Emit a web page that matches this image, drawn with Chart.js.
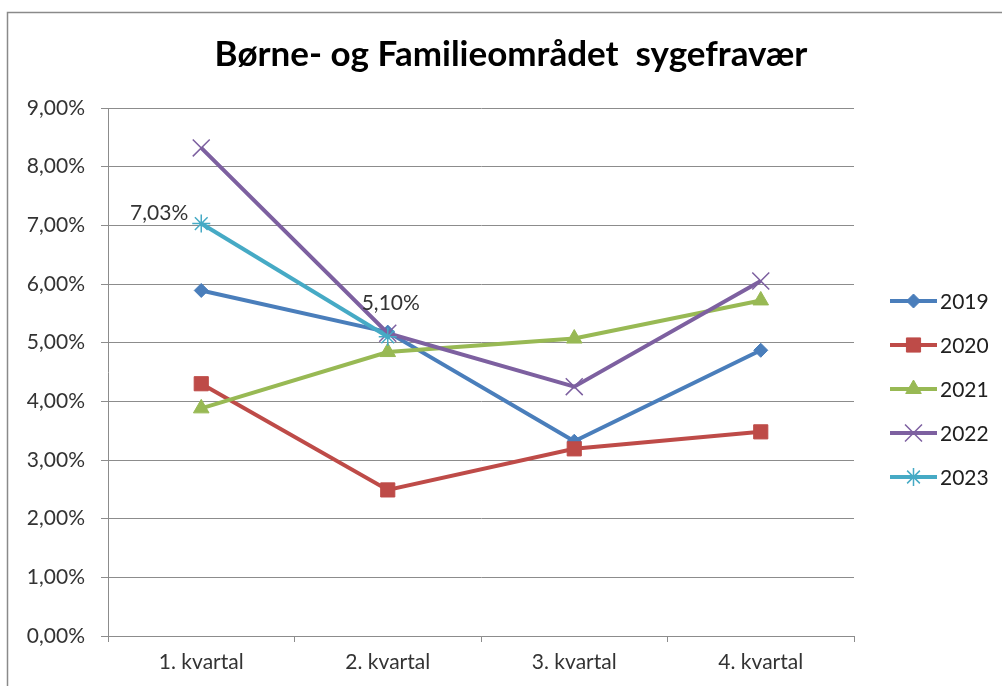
<!DOCTYPE html>
<html><head><meta charset="utf-8">
<script src="https://cdn.jsdelivr.net/npm/chart.js@4"></script>
<style>html,body{margin:0;padding:0;background:#fff}#wrap{width:1002px;height:686px;position:relative}</style>
</head><body><div id="wrap"><canvas id="c" width="1002" height="686"></canvas></div>
<script>
const categories = ['1. kvartal', '2. kvartal', '3. kvartal', '4. kvartal'];
const years = ['2019', '2020', '2021', '2022', '2023'];
const v2019 = [5.89, 5.18, 3.32, 4.87];
const v2020 = [4.30, 2.49, 3.19, 3.48];
const v2021 = [3.88, 4.84, 5.07, 5.72];
const v2022 = [8.32, 5.16, 4.25, 6.05];
const v2023 = [7.03, 5.10, null, null];
const yMin = 0, yMax = 9, yStep = 1;
const chartTitle = 'Børne- og Familieområdet  sygefravær';
// labelled points: [series index, category index, placement]
const labelled = [[4, 0, 'left'], [4, 1, 'top']];

const colors = ['#4A7EBB', '#BE4B48', '#98B954', '#7D60A0', '#46AAC5'];
const styles = ['rectRot', 'rect', 'triangle', 'crossRot', 'star'];
const radii = [7, 10, 9, 12, 9];
const pbw = [1, 1, 1, 1.5, 1.5];
const series = [v2019, v2020, v2021, v2022, v2023];
const FONT = 'Lato, "Open Sans", sans-serif';
const fmt = v => v.toFixed(2).replace('.', ',') + '%';
const GRID = '#8c8c8c';
const TXT = '#333333';

const datasets = series.map((d, i) => ({
  label: years[i], data: d,
  borderColor: colors[i], backgroundColor: colors[i],
  pointStyle: styles[i], pointRadius: radii[i], pointHoverRadius: radii[i],
  pointBorderWidth: pbw[i], pointBorderColor: colors[i], pointBackgroundColor: colors[i],
  borderWidth: 4, tension: 0, order: series.length - i, spanGaps: false
}));

function drawMarker(ctx, style, x, y, r, color, bw) {
  ctx.save();
  ctx.fillStyle = color; ctx.strokeStyle = color; ctx.lineWidth = bw;
  if (window.Chart && Chart.helpers && Chart.helpers.drawPoint) {
    Chart.helpers.drawPoint(ctx, { pointStyle: style, radius: r, rotation: 0, borderWidth: bw }, x, y);
    ctx.restore(); return;
  }
  ctx.beginPath();
  const s = r * Math.SQRT1_2;
  if (style === 'rectRot') {
    ctx.moveTo(x, y - r); ctx.lineTo(x + r, y); ctx.lineTo(x, y + r); ctx.lineTo(x - r, y); ctx.closePath(); ctx.fill();
  } else if (style === 'rect') {
    ctx.rect(x - s, y - s, 2 * s, 2 * s); ctx.fill();
  } else if (style === 'triangle') {
    ctx.moveTo(x, y - r); ctx.lineTo(x + r * 0.866, y + r * 0.5); ctx.lineTo(x - r * 0.866, y + r * 0.5); ctx.closePath(); ctx.fill();
  } else if (style === 'crossRot') {
    ctx.moveTo(x - s, y - s); ctx.lineTo(x + s, y + s); ctx.moveTo(x + s, y - s); ctx.lineTo(x - s, y + s); ctx.stroke();
  } else if (style === 'star') {
    ctx.moveTo(x - s, y - s); ctx.lineTo(x + s, y + s); ctx.moveTo(x + s, y - s); ctx.lineTo(x - s, y + s);
    ctx.moveTo(x, y - r); ctx.lineTo(x, y + r); ctx.moveTo(x - r, y); ctx.lineTo(x + r, y); ctx.stroke();
  }
  ctx.restore();
}

const framePlugin = {
  id: 'frame',
  beforeDraw(chart) {
    const ctx = chart.ctx;
    ctx.save();
    ctx.fillStyle = '#fff'; ctx.fillRect(0, 0, chart.width, chart.height);
    ctx.strokeStyle = '#8a8a8a'; ctx.lineWidth = 1.5;
    ctx.beginPath(); ctx.moveTo(7.5, chart.height + 5); ctx.lineTo(7.5, 12.5); ctx.lineTo(chart.width + 5, 12.5); ctx.stroke();
    ctx.restore();
  }
};

const labelPlugin = {
  id: 'ptLabels',
  afterDatasetsDraw(chart) {
    const ctx = chart.ctx;
    ctx.save();
    ctx.font = '21px ' + FONT; ctx.fillStyle = TXT; ctx.textBaseline = 'middle';
    labelled.forEach(([s, i, pos]) => {
      const el = chart.getDatasetMeta(s).data[i];
      const txt = fmt(series[s][i]);
      if (pos === 'left') { ctx.textAlign = 'right'; ctx.fillText(txt, el.x - 13, el.y - 10); }
      else { ctx.textAlign = 'center'; ctx.fillText(txt, el.x + 3, el.y - 34); }
    });
    ctx.restore();
  }
};

const legendPlugin = {
  id: 'xlLegend',
  afterDraw(chart) {
    const ctx = chart.ctx;
    const x0 = chart.chartArea.right + 36, y0 = 301, gap = 44, len = 47;
    ctx.save();
    ctx.font = '21px ' + FONT; ctx.textBaseline = 'middle'; ctx.textAlign = 'left';
    chart.data.datasets.forEach((ds, i) => {
      const y = y0 + i * gap;
      ctx.strokeStyle = ds.borderColor; ctx.lineWidth = 4; ctx.lineCap = 'butt';
      ctx.beginPath(); ctx.moveTo(x0, y); ctx.lineTo(x0 + len, y); ctx.stroke();
      drawMarker(ctx, ds.pointStyle, x0 + len / 2, y, ds.pointRadius, ds.borderColor, ds.pointBorderWidth);
      ctx.fillStyle = '#202020';
      ctx.fillText(ds.label, x0 + len + 3, y + 1);
    });
    ctx.restore();
  }
};

new Chart(document.getElementById('c'), {
  type: 'line',
  data: { labels: categories, datasets },
  options: {
    responsive: false, animation: false, devicePixelRatio: 1,
    layout: { padding: { left: 20, right: 0, top: 0, bottom: 0 } },
    plugins: {
      legend: { display: false }, tooltip: { enabled: false },
      title: { display: true, text: chartTitle, color: '#000',
        font: { family: FONT, size: 35, weight: 'bold' },
        padding: { top: 34, bottom: 32 } }
    },
    scales: {
      x: {
        type: 'category', offset: true,
        grid: { offset: true, drawOnChartArea: false, drawTicks: true, tickLength: 6, color: GRID },
        border: { color: GRID, width: 1 },
        ticks: { color: TXT, font: { family: FONT, size: 21 }, padding: 8 },
        afterFit: s => { s.height = 50; }
      },
      y: {
        min: yMin, max: yMax,
        grid: { color: GRID, lineWidth: 1, tickLength: 7 },
        border: { color: GRID, width: 1 },
        ticks: { stepSize: yStep, color: TXT, font: { family: FONT, size: 21 }, padding: 16,
          callback: v => fmt(v) },
        afterFit: s => { s.width = 88; }
      },
      legendSpace: {
        type: 'linear', position: 'right', display: true,
        grid: { display: false, drawOnChartArea: false },
        border: { display: false },
        ticks: { display: false },
        afterFit: s => { s.width = 148; }
      }
    }
  },
  plugins: [framePlugin, labelPlugin, legendPlugin]
});
</script></body></html>
